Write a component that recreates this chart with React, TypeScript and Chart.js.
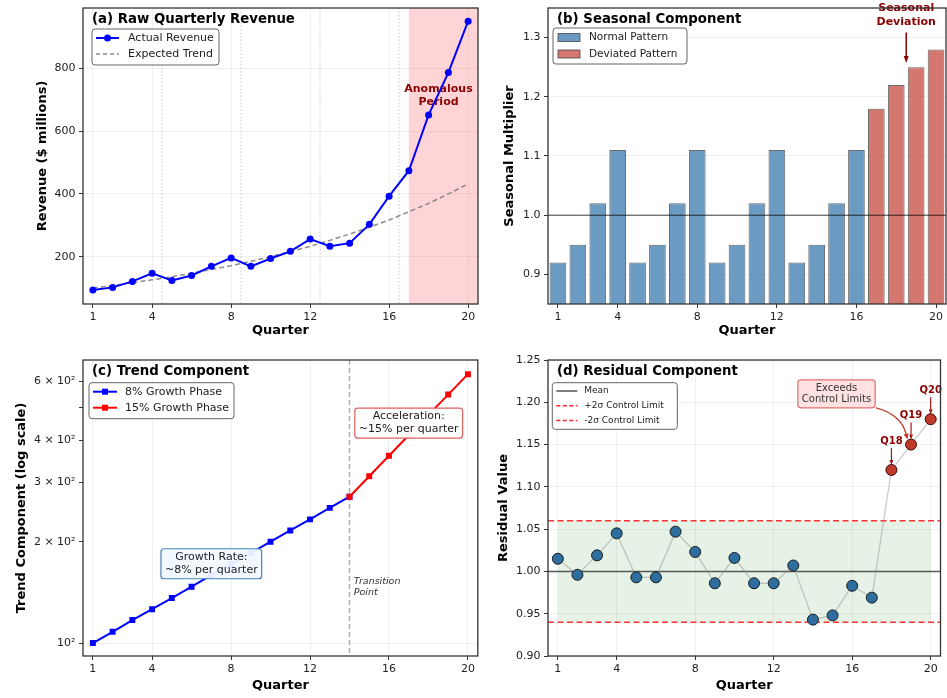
import React, { useEffect, useRef } from "react";
import { Chart, registerables } from "chart.js";

Chart.register(...registerables);

const FONT_FAMILY = "'DejaVu Sans', 'Liberation Sans', sans-serif";
Chart.defaults.font.family = FONT_FAMILY;

// ---------------- Data ----------------
const quarters = [1, 2, 3, 4, 5, 6, 7, 8, 9, 10, 11, 12, 13, 14, 15, 16, 17, 18, 19, 20];
const actualRevenue = [94, 102, 121, 147, 124, 140, 169, 196, 169, 194, 217, 256, 233, 243, 303, 393, 474, 652, 787, 951];
const expectedTrend = [100, 108, 117, 126, 136, 147, 159, 171, 185, 200, 216, 233, 252, 272, 294, 317, 343, 370, 400, 432];

const normalQuarters = [1, 2, 3, 4, 5, 6, 7, 8, 9, 10, 11, 12, 13, 14, 15, 16];
const normalSeasonal = [0.92, 0.95, 1.02, 1.11, 0.92, 0.95, 1.02, 1.11, 0.92, 0.95, 1.02, 1.11, 0.92, 0.95, 1.02, 1.11];
const deviatedQuarters = [17, 18, 19, 20];
const deviatedSeasonal = [1.18, 1.22, 1.25, 1.28];

const slowGrowthQuarters = [1, 2, 3, 4, 5, 6, 7, 8, 9, 10, 11, 12, 13, 14];
const slowGrowthTrend = [100, 108, 117, 126, 136, 147, 159, 171, 185, 200, 216, 233, 252, 272];
const fastGrowthQuarters = [14, 15, 16, 17, 18, 19, 20];
const fastGrowthTrend = [272, 313, 360, 414, 476, 547, 629];

const residualValues = [1.015, 0.996, 1.019, 1.045, 0.993, 0.993, 1.047, 1.023, 0.986, 1.016, 0.986, 0.986, 1.007, 0.943, 0.948, 0.983, 0.969, 1.12, 1.15, 1.18];
const anomalyQuarters = [18, 19, 20];

const xTickValues = [1, 4, 8, 12, 16, 20];
const revenueTicks = [200, 400, 600, 800];
const seasonalTicks = [0.9, 1.0, 1.1, 1.2, 1.3];
const trendTicks = [100, 200, 300, 400, 500, 600];
const trendTickLabels = ["10²", "2 × 10²", "3 × 10²", "4 × 10²", "", "6 × 10²"];
const residualTicks = [0.9, 0.95, 1.0, 1.05, 1.1, 1.15, 1.2, 1.25];

const yearBoundaries = [4.5, 8.5, 12.5, 16.5];
const anomalyStart = 17;
const seasonalBaseline = 1.0;
const transitionQuarter = 14;
const residualMean = 1.0;
const upperLimit = 1.06;
const lowerLimit = 0.94;

// ---------------- Styles ----------------
const GRID = "rgba(0,0,0,0.08)";
const DARK_RED = "#8b0000";
const BLUE_BAR = "rgba(70,130,180,0.8)";
const RED_BAR = "rgba(200,85,75,0.8)";
const BAR_EDGE = "rgba(60,60,60,0.75)";
const RES_BLUE = "#2d6e9f";
const RES_RED = "#c0392b";

function setFont(ctx: any, size: number, weight = "normal", style = "normal") {
  ctx.font = `${style} ${weight} ${size}px ${FONT_FAMILY}`;
}

function roundRectPath(ctx: any, x: number, y: number, w: number, h: number, r: number) {
  ctx.beginPath();
  ctx.moveTo(x + r, y);
  ctx.arcTo(x + w, y, x + w, y + h, r);
  ctx.arcTo(x + w, y + h, x, y + h, r);
  ctx.arcTo(x, y + h, x, y, r);
  ctx.arcTo(x, y, x + w, y, r);
  ctx.closePath();
}

function drawFrame(chart: any) {
  const { ctx, chartArea: a } = chart;
  ctx.save();
  ctx.strokeStyle = "#333";
  ctx.lineWidth = 1.3;
  ctx.strokeRect(a.left, a.top, a.right - a.left, a.bottom - a.top);
  ctx.restore();
}

function drawPanelTitle(chart: any, text: string) {
  const { ctx, chartArea: a } = chart;
  ctx.save();
  setFont(ctx, 13.3, "bold");
  ctx.fillStyle = "#000";
  ctx.textAlign = "left";
  ctx.textBaseline = "middle";
  ctx.fillText(text, a.left + 9, a.top + 12);
  ctx.restore();
}

function drawLegend(chart: any, items: any[], box: any) {
  const { ctx, chartArea: a } = chart;
  const x = a.left + box.dx;
  const y = a.top + box.dy;
  ctx.save();
  roundRectPath(ctx, x, y, box.w, box.h, 3);
  ctx.fillStyle = "rgba(255,255,255,0.85)";
  ctx.fill();
  ctx.strokeStyle = "#666";
  ctx.lineWidth = 1;
  ctx.stroke();
  items.forEach((it, i) => {
    const cy = y + box.firstRow + i * box.rowGap;
    const x1 = x + box.sampleStart;
    const x2 = x + box.sampleEnd;
    if (it.kind === "patch") {
      ctx.fillStyle = it.color;
      ctx.fillRect(x1, cy - 4, x2 - x1, 8);
      ctx.strokeStyle = it.edge;
      ctx.lineWidth = 1;
      ctx.strokeRect(x1, cy - 4, x2 - x1, 8);
    } else {
      ctx.strokeStyle = it.color;
      ctx.lineWidth = it.width || 2;
      ctx.setLineDash(it.dash || []);
      ctx.beginPath();
      ctx.moveTo(x1, cy);
      ctx.lineTo(x2, cy);
      ctx.stroke();
      ctx.setLineDash([]);
      ctx.fillStyle = it.color;
      if (it.marker === "circle") {
        ctx.beginPath();
        ctx.arc((x1 + x2) / 2, cy, 3.5, 0, Math.PI * 2);
        ctx.fill();
      } else if (it.marker === "rect") {
        ctx.fillRect((x1 + x2) / 2 - 3, cy - 3, 6, 6);
      }
    }
    setFont(ctx, box.fontSize);
    ctx.fillStyle = "#222";
    ctx.textAlign = "left";
    ctx.textBaseline = "middle";
    ctx.fillText(it.label, x + box.textX, cy);
  });
  ctx.restore();
}

function drawArrowHead(ctx: any, fromX: number, fromY: number, tipX: number, tipY: number, color: string, len = 7, wid = 5) {
  const ang = Math.atan2(tipY - fromY, tipX - fromX);
  const bx = tipX - len * Math.cos(ang);
  const by = tipY - len * Math.sin(ang);
  ctx.fillStyle = color;
  ctx.beginPath();
  ctx.moveTo(tipX, tipY);
  ctx.lineTo(bx + (wid / 2) * Math.sin(ang), by - (wid / 2) * Math.cos(ang));
  ctx.lineTo(bx - (wid / 2) * Math.sin(ang), by + (wid / 2) * Math.cos(ang));
  ctx.closePath();
  ctx.fill();
  return { bx, by };
}

function drawArrow(ctx: any, x1: number, y1: number, x2: number, y2: number, color: string, lw = 1.5, len = 7, wid = 5) {
  ctx.save();
  const { bx, by } = drawArrowHead(ctx, x1, y1, x2, y2, color, len, wid);
  ctx.strokeStyle = color;
  ctx.lineWidth = lw;
  ctx.beginPath();
  ctx.moveTo(x1, y1);
  ctx.lineTo(bx, by);
  ctx.stroke();
  ctx.restore();
}

function drawTextBox(ctx: any, lines: string[], cx: number, cy: number, o: any) {
  ctx.save();
  setFont(ctx, o.size);
  let maxW = 0;
  lines.forEach((l) => (maxW = Math.max(maxW, ctx.measureText(l).width)));
  const w = maxW + 2 * o.padX;
  const h = lines.length * o.lineH + 2 * o.padY;
  roundRectPath(ctx, cx - w / 2, cy - h / 2, w, h, 3);
  ctx.fillStyle = o.bg;
  ctx.fill();
  ctx.strokeStyle = o.edge;
  ctx.lineWidth = 1.2;
  ctx.stroke();
  ctx.fillStyle = o.color || "#222";
  ctx.textAlign = "center";
  ctx.textBaseline = "middle";
  lines.forEach((l, i) => ctx.fillText(l, cx, cy - ((lines.length - 1) * o.lineH) / 2 + i * o.lineH));
  ctx.restore();
  return { left: cx - w / 2, right: cx + w / 2, top: cy - h / 2, bottom: cy + h / 2 };
}

function drawLines(ctx: any, lines: string[], x: number, cy: number, lineH: number, align: string) {
  lines.forEach((l, i) => {
    ctx.textAlign = align;
    ctx.textBaseline = "middle";
    ctx.fillText(l, x, cy - ((lines.length - 1) * lineH) / 2 + i * lineH);
  });
}

// ---------------- Scales ----------------
function xAxis(height: number, titleBottom: number, showGrid = true) {
  return {
    type: "linear",
    min: 0.5,
    max: 20.5,
    bounds: "data",
    offset: false,
    afterBuildTicks: (s: any) => {
      s.ticks = xTickValues.map((v) => ({ value: v }));
    },
    afterFit: (s: any) => {
      s.height = height;
      s.paddingLeft = 0;
      s.paddingRight = 0;
      s.paddingTop = 0;
      s.paddingBottom = 0;
    },
    ticks: { color: "#222", font: { size: 11 }, padding: 3, maxRotation: 0, autoSkip: false, callback: (v: any) => String(v) },
    grid: { display: true, drawOnChartArea: showGrid, offset: false, color: GRID, lineWidth: 0.8, tickColor: "#333", tickLength: 4, tickWidth: 1 },
    border: { display: false },
    title: { display: true, text: "Quarter", color: "#000", font: { size: 13, weight: "bold" }, padding: { top: 0, bottom: titleBottom } },
  };
}

function yAxis(o: any) {
  return {
    type: o.type || "linear",
    min: o.min,
    max: o.max,
    bounds: "data",
    beginAtZero: false,
    afterBuildTicks: (s: any) => {
      s.ticks = o.ticks.map((v: number) => ({ value: v }));
    },
    afterFit: (s: any) => {
      s.width = o.width;
      s.paddingLeft = 0;
      s.paddingRight = 0;
      s.paddingTop = 0;
      s.paddingBottom = 0;
    },
    ticks: { color: "#222", font: { size: 11 }, padding: 3.5, autoSkip: false, callback: (v: any) => o.format(Number(v)) },
    grid: { color: o.gridColor || GRID, lineWidth: 0.8, tickColor: "#333", tickLength: 4, tickWidth: 1 },
    border: { display: false },
    title: { display: true, text: o.title, color: "#000", font: { size: 13, weight: "bold" }, padding: { top: o.titleOffset - 7.8, bottom: 0 } },
  };
}

const commonOptions = {
  responsive: false,
  animation: false,
  devicePixelRatio: 1,
  events: [],
  plugins: { legend: { display: false }, tooltip: { enabled: false }, title: { display: false } },
};

// ---------------- Panel (a) ----------------
const decorA = {
  id: "decorA",
  beforeDatasetsDraw(chart: any) {
    const { ctx, chartArea: a, scales } = chart;
    const x = scales.x;
    const y = scales.y;
    ctx.save();
    ctx.fillStyle = "rgba(255,0,20,0.17)";
    const sx = x.getPixelForValue(anomalyStart);
    ctx.fillRect(sx, a.top, a.right - sx, a.bottom - a.top);
    ctx.strokeStyle = "rgba(120,120,120,0.45)";
    ctx.lineWidth = 0.9;
    ctx.setLineDash([1.5, 2]);
    yearBoundaries.forEach((b) => {
      const px = x.getPixelForValue(b);
      ctx.beginPath();
      ctx.moveTo(px, a.top);
      ctx.lineTo(px, a.bottom);
      ctx.stroke();
    });
    ctx.setLineDash([]);
    setFont(ctx, 11, "bold");
    ctx.fillStyle = DARK_RED;
    drawLines(ctx, ["Anomalous", "Period"], x.getPixelForValue(18.5), y.getPixelForValue(715), 13, "center");
    ctx.restore();
  },
  afterDraw(chart: any) {
    drawFrame(chart);
    drawPanelTitle(chart, "(a) Raw Quarterly Revenue");
    drawLegend(
      chart,
      [
        { label: "Actual Revenue", kind: "line", color: "#0000ff", width: 2, marker: "circle" },
        { label: "Expected Trend", kind: "line", color: "rgba(120,120,120,0.85)", width: 1.5, dash: [4, 3] },
      ],
      { dx: 9, dy: 21, w: 127, h: 36, firstRow: 9, rowGap: 16, sampleStart: 4, sampleEnd: 27, textX: 36, fontSize: 11 }
    );
  },
};

function revenueConfig(): any {
  return {
    type: "line",
    data: {
      datasets: [
        {
          label: "Actual Revenue",
          data: quarters.map((q, i) => ({ x: q, y: actualRevenue[i] })),
          borderColor: "#0000ff",
          backgroundColor: "#0000ff",
          borderWidth: 2,
          pointRadius: 3.5,
          pointBackgroundColor: "#0000ff",
          pointBorderWidth: 0,
          tension: 0,
          order: 1,
        },
        {
          label: "Expected Trend",
          data: quarters.map((q, i) => ({ x: q, y: expectedTrend[i] })),
          borderColor: "rgba(120,120,120,0.85)",
          borderWidth: 1.5,
          borderDash: [5, 3],
          pointRadius: 0,
          tension: 0,
          order: 2,
        },
      ],
    },
    options: {
      ...commonOptions,
      layout: { padding: { top: 8, right: 1, left: 0, bottom: 0 } },
      scales: {
        x: xAxis(36, 1.2),
        y: yAxis({ min: 49, max: 993, ticks: revenueTicks, format: (v: number) => String(v), width: 83, title: "Revenue ($ millions)", titleOffset: 43 }),
      },
    },
    plugins: [decorA],
  };
}

// ---------------- Panel (b) ----------------
const decorB = {
  id: "decorB",
  afterDatasetsDraw(chart: any) {
    const { ctx, chartArea: a, scales } = chart;
    const x = scales.x;
    const y = scales.y;
    ctx.save();
    const py = y.getPixelForValue(seasonalBaseline);
    ctx.strokeStyle = "rgba(0,0,0,0.75)";
    ctx.lineWidth = 1;
    ctx.beginPath();
    ctx.moveTo(a.left, py);
    ctx.lineTo(a.right, py);
    ctx.stroke();
    const ax = x.getPixelForValue(18.5);
    const textCy = y.getPixelForValue(1.3375);
    setFont(ctx, 11, "bold");
    ctx.fillStyle = DARK_RED;
    drawLines(ctx, ["Seasonal", "Deviation"], ax, textCy, 14, "center");
    drawArrow(ctx, ax, textCy + 17, ax, y.getPixelForValue(1.257), DARK_RED, 1.5, 7, 5);
    ctx.restore();
  },
  afterDraw(chart: any) {
    drawFrame(chart);
    drawPanelTitle(chart, "(b) Seasonal Component");
    drawLegend(
      chart,
      [
        { label: "Normal Pattern", kind: "patch", color: BLUE_BAR, edge: BAR_EDGE },
        { label: "Deviated Pattern", kind: "patch", color: RED_BAR, edge: BAR_EDGE },
      ],
      { dx: 5, dy: 20, w: 134, h: 36, firstRow: 9.5, rowGap: 16.5, sampleStart: 5, sampleEnd: 27, textX: 36, fontSize: 10.5 }
    );
  },
};

function seasonalConfig(): any {
  const barCommon = { borderColor: BAR_EDGE, borderWidth: 1, barPercentage: 0.84, categoryPercentage: 1, grouped: false, borderSkipped: false };
  return {
    type: "bar",
    data: {
      datasets: [
        { label: "Normal Pattern", data: normalQuarters.map((q, i) => ({ x: q, y: normalSeasonal[i] })), backgroundColor: BLUE_BAR, ...barCommon },
        { label: "Deviated Pattern", data: deviatedQuarters.map((q, i) => ({ x: q, y: deviatedSeasonal[i] })), backgroundColor: RED_BAR, ...barCommon },
      ],
    },
    options: {
      ...commonOptions,
      layout: { padding: { top: 8, right: 1, left: 0, bottom: 0 } },
      scales: {
        x: xAxis(36, 1.2, false),
        y: yAxis({ min: 0.85, max: 1.35, ticks: seasonalTicks, format: (v: number) => v.toFixed(1), width: 66, title: "Seasonal Multiplier", titleOffset: 28 }),
      },
    },
    plugins: [decorB],
  };
}

// ---------------- Panel (c) ----------------
const decorC = {
  id: "decorC",
  beforeDatasetsDraw(chart: any) {
    const { ctx, chartArea: a, scales } = chart;
    const x = scales.x;
    const y = scales.y;
    ctx.save();
    const px = x.getPixelForValue(transitionQuarter);
    ctx.strokeStyle = "rgba(150,150,150,0.75)";
    ctx.lineWidth = 1.5;
    ctx.setLineDash([5, 3]);
    ctx.beginPath();
    ctx.moveTo(px, a.top);
    ctx.lineTo(px, a.bottom);
    ctx.stroke();
    ctx.setLineDash([]);
    setFont(ctx, 9.5, "normal", "italic");
    ctx.fillStyle = "#333";
    drawLines(ctx, ["Transition", "Point"], x.getPixelForValue(14.22), y.getPixelForValue(147), 11, "left");
    ctx.restore();
  },
  afterDatasetsDraw(chart: any) {
    const { ctx, scales } = chart;
    const x = scales.x;
    const y = scales.y;
    drawTextBox(ctx, ["Growth Rate:", "~8% per quarter"], x.getPixelForValue(7), y.getPixelForValue(172), {
      size: 11, lineH: 13, padX: 4, padY: 2, bg: "rgba(240,248,255,0.95)", edge: "#4682b4",
    });
    drawTextBox(ctx, ["Acceleration:", "~15% per quarter"], x.getPixelForValue(17), y.getPixelForValue(450), {
      size: 11, lineH: 13, padX: 4, padY: 2, bg: "rgba(255,255,255,0.95)", edge: "#e06060",
    });
  },
  afterDraw(chart: any) {
    drawFrame(chart);
    drawPanelTitle(chart, "(c) Trend Component");
    drawLegend(
      chart,
      [
        { label: "8% Growth Phase", kind: "line", color: "#0000ff", width: 2, marker: "rect" },
        { label: "15% Growth Phase", kind: "line", color: "#ff0000", width: 2, marker: "rect" },
      ],
      { dx: 6, dy: 22.7, w: 145, h: 36, firstRow: 9, rowGap: 16, sampleStart: 4, sampleEnd: 28, textX: 36, fontSize: 11 }
    );
  },
};

function trendConfig(): any {
  return {
    type: "line",
    data: {
      datasets: [
        {
          label: "8% Growth Phase",
          data: slowGrowthQuarters.map((q, i) => ({ x: q, y: slowGrowthTrend[i] })),
          borderColor: "#0000ff",
          backgroundColor: "#0000ff",
          borderWidth: 2,
          pointStyle: "rect",
          pointRadius: 4.2,
          pointBorderWidth: 0,
          tension: 0,
          order: 2,
        },
        {
          label: "15% Growth Phase",
          data: fastGrowthQuarters.map((q, i) => ({ x: q, y: fastGrowthTrend[i] })),
          borderColor: "#ff0000",
          backgroundColor: "#ff0000",
          borderWidth: 2,
          pointStyle: "rect",
          pointRadius: 4.2,
          pointBorderWidth: 0,
          tension: 0,
          order: 1,
        },
      ],
    },
    options: {
      ...commonOptions,
      layout: { padding: { top: 20, right: 1, left: 0, bottom: 0 } },
      scales: {
        x: xAxis(42, 4.2),
        y: yAxis({
          type: "logarithmic",
          min: 91.5,
          max: 693,
          ticks: trendTicks,
          format: (v: number) => trendTickLabels[trendTicks.indexOf(Math.round(v))] ?? "",
          width: 83,
          title: "Trend Component (log scale)",
          titleOffset: 21.7,
          gridColor: (c: any) => (c.tick && c.tick.value === trendTicks[0] ? GRID : "rgba(0,0,0,0)"),
        }),
      },
    },
    plugins: [decorC],
  };
}

// ---------------- Panel (d) ----------------
const decorD = {
  id: "decorD",
  beforeDatasetsDraw(chart: any) {
    const { ctx, chartArea: a, scales } = chart;
    const x = scales.x;
    const y = scales.y;
    ctx.save();
    const x1 = x.getPixelForValue(quarters[0]);
    const x2 = x.getPixelForValue(quarters[quarters.length - 1]);
    const yu = y.getPixelForValue(upperLimit);
    const yl = y.getPixelForValue(lowerLimit);
    ctx.fillStyle = "rgba(0,128,0,0.1)";
    ctx.fillRect(x1, yu, x2 - x1, yl - yu);
    const ym = y.getPixelForValue(residualMean);
    ctx.strokeStyle = "rgba(40,40,40,0.75)";
    ctx.lineWidth = 1.5;
    ctx.beginPath();
    ctx.moveTo(a.left, ym);
    ctx.lineTo(a.right, ym);
    ctx.stroke();
    ctx.strokeStyle = "rgba(255,0,0,0.8)";
    ctx.setLineDash([6, 3.5]);
    [yu, yl].forEach((py) => {
      ctx.beginPath();
      ctx.moveTo(a.left, py);
      ctx.lineTo(a.right, py);
      ctx.stroke();
    });
    ctx.setLineDash([]);
    ctx.restore();
  },
  afterDatasetsDraw(chart: any) {
    const { ctx, scales } = chart;
    const x = scales.x;
    const y = scales.y;
    ctx.save();
    anomalyQuarters.forEach((q) => {
      const px = x.getPixelForValue(q);
      const py = y.getPixelForValue(residualValues[q - 1]);
      setFont(ctx, 10, "bold");
      ctx.fillStyle = DARK_RED;
      ctx.textAlign = "center";
      ctx.textBaseline = "middle";
      ctx.fillText(`Q${q}`, px, py - 29);
      drawArrow(ctx, px, py - 22, px, py - 5, "#a01818", 1.2, 5, 4);
    });
    const box = drawTextBox(ctx, ["Exceeds", "Control Limits"], x.getPixelForValue(15.2), y.getPixelForValue(1.21), {
      size: 10, lineH: 11.5, padX: 4, padY: 2.5, bg: "rgba(255,215,215,0.75)", edge: "#e07070", color: "#333",
    });
    const tx = x.getPixelForValue(19) - 3.5;
    const ty = y.getPixelForValue(residualValues[18]) - 5;
    const sx = box.right + 1;
    const sy = box.bottom;
    const mx = (sx + tx) / 2;
    const my = (sy + ty) / 2;
    const dx = tx - sx;
    const dy = ty - sy;
    const len = Math.hypot(dx, dy);
    const cx = mx + (13 * dy) / len;
    const cy = my - (13 * dx) / len;
    const { bx, by } = drawArrowHead(ctx, cx, cy, tx, ty, RES_RED, 6, 5);
    ctx.strokeStyle = RES_RED;
    ctx.lineWidth = 1.3;
    ctx.beginPath();
    ctx.moveTo(sx, sy);
    ctx.quadraticCurveTo(cx, cy, bx, by);
    ctx.stroke();
    ctx.restore();
  },
  afterDraw(chart: any) {
    drawFrame(chart);
    drawPanelTitle(chart, "(d) Residual Component");
    drawLegend(
      chart,
      [
        { label: "Mean", kind: "line", color: "rgba(40,40,40,0.8)", width: 1.5 },
        { label: "+2σ Control Limit", kind: "line", color: "rgba(255,0,0,0.85)", width: 1.5, dash: [4, 2.5] },
        { label: "-2σ Control Limit", kind: "line", color: "rgba(255,0,0,0.85)", width: 1.5, dash: [4, 2.5] },
      ],
      { dx: 4.3, dy: 22.7, w: 125, h: 46.6, firstRow: 8.3, rowGap: 14.7, sampleStart: 4, sampleEnd: 25, textX: 32, fontSize: 9 }
    );
  },
};

function residualConfig(): any {
  const normalPts = quarters.filter((q) => !anomalyQuarters.includes(q)).map((q) => ({ x: q, y: residualValues[q - 1] }));
  const anomalyPts = anomalyQuarters.map((q) => ({ x: q, y: residualValues[q - 1] }));
  return {
    type: "line",
    data: {
      datasets: [
        {
          label: "Residual path",
          data: quarters.map((q, i) => ({ x: q, y: residualValues[i] })),
          borderColor: "rgba(140,140,140,0.45)",
          borderWidth: 1.3,
          pointRadius: 0,
          tension: 0,
          order: 3,
        },
        {
          label: "Residuals",
          data: normalPts,
          showLine: false,
          pointRadius: 5.5,
          pointBackgroundColor: RES_BLUE,
          pointBorderColor: "#1a1a1a",
          pointBorderWidth: 1,
          order: 2,
        },
        {
          label: "Anomalies",
          data: anomalyPts,
          showLine: false,
          pointRadius: 5.5,
          pointBackgroundColor: RES_RED,
          pointBorderColor: "#3a0a0a",
          pointBorderWidth: 1,
          order: 1,
        },
      ],
    },
    options: {
      ...commonOptions,
      layout: { padding: { top: 20, right: 1, left: 0, bottom: 0 } },
      scales: {
        x: xAxis(42, 4.2),
        y: yAxis({ min: 0.9, max: 1.25, ticks: residualTicks, format: (v: number) => v.toFixed(2), width: 66, title: "Residual Value", titleOffset: 21.3 }),
      },
    },
    plugins: [decorD],
  };
}

// ---------------- Components ----------------
function Panel(props: any) {
  const { make, left, top, width, height } = props;
  const ref = useRef<HTMLCanvasElement | null>(null);
  useEffect(() => {
    if (!ref.current) return;
    const chart = new Chart(ref.current, make());
    return () => chart.destroy();
  }, [make]);
  return (
    <canvas
      ref={ref}
      width={width}
      height={height}
      style={{ position: "absolute", left, top, width, height, display: "block" }}
    />
  );
}

export default function App() {
  return (
    <div style={{ position: "fixed", left: 0, top: 0, width: 947, height: 698, background: "#fff", overflow: "hidden" }}>
      <Panel make={revenueConfig} left={0} top={0} width={482} height={340} />
      <Panel make={seasonalConfig} left={482} top={0} width={465} height={340} />
      <Panel make={trendConfig} left={0} top={340} width={482} height={358} />
      <Panel make={residualConfig} left={482} top={340} width={465} height={358} />
    </div>
  );
}
